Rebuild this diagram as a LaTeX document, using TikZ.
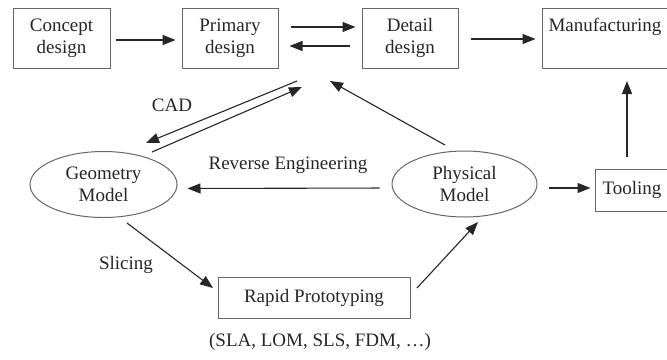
\documentclass[tikz,border=0pt]{standalone}
\usepackage{fontspec}
\setmainfont{Liberation Serif}
\usetikzlibrary{arrows.meta,shapes.geometric}
\begin{document}
\begin{tikzpicture}[x=1pt,y=-1pt,
  every node/.style={font=\fontsize{19}{22}\selectfont, text=black!85},
  box/.style={draw=black!60, line width=1pt, rectangle, inner sep=0pt, align=center},
  oval/.style={draw=black!60, line width=1pt, ellipse, inner sep=0pt, align=center},
  conn/.style={draw=black!85, line width=1.1pt, -{Triangle[length=13pt,width=10pt]}},
  lbl/.style={inner sep=0pt, align=center}]
\useasboundingbox (0,0) rectangle (667,359);
\clip (0,0) rectangle (667,359);

% design stages
\node[box, minimum width=97pt, minimum height=60pt] (concept) at (61.5,38) {Concept\\design};
\node[box, minimum width=96pt, minimum height=60pt] (primary) at (230,38) {Primary\\design};
\node[box, minimum width=96pt, minimum height=60pt] (detail) at (410,38) {Detail\\design};
\node[box, minimum width=140pt, minimum height=60pt] (manu) at (612,38) {};
\node[lbl] (manutext) at (605,27) {Manufacturing};

% models
\node[oval, minimum width=147pt, minimum height=66pt] (geom) at (103.5,184.5) {Geometry\\Model};
\node[oval, minimum width=145pt, minimum height=66pt] (phys) at (464.5,184) {Physical\\Model};

% tooling and rapid prototyping
\node[box, minimum width=90pt, minimum height=42pt] (tool) at (640,190) {};
\node[lbl] (tooltext) at (632,190) {Tooling};
\node[box, minimum width=192pt, minimum height=41pt] (rp) at (314,297.5) {Rapid Prototyping};
\node[lbl] (rptypes) at (320,342) {(SLA, LOM, SLS, FDM, \dots)};

% labels on connectors
\node[lbl] (cadlbl) at (172,105) {CAD};
\node[lbl] (revlbl) at (288,165) {Reverse Engineering};
\node[lbl] (slicelbl) at (126,265) {Slicing};

% connector end points
\coordinate (cadPa) at (297,81);
\coordinate (cadGa) at (146,143);
\coordinate (cadGb) at (152,152);
\coordinate (cadPb) at (302,87);
\coordinate (physTop) at (445,145);
\coordinate (designGap) at (330,81);
\coordinate (toolUp) at (627,157);
\coordinate (manuDown) at (627,81);
\coordinate (geomLow) at (127,223);
\coordinate (rpIn) at (213,288);
\coordinate (rpOut) at (417,288);
\coordinate (physLow) at (478,222);

% top row flow
\draw[conn, shorten <=5pt, shorten >=6pt] ([yshift=-2pt]concept.east) -- ([yshift=-2pt]primary.west);
\draw[conn, shorten <=12pt, shorten >=6pt] ([yshift=11pt]primary.east) -- ([yshift=11pt]detail.west);
\draw[conn, shorten <=12pt, shorten >=11pt] ([yshift=-8pt]detail.west) -- ([yshift=-8pt]primary.east);
\draw[conn, shorten <=12pt, shorten >=6pt] ([yshift=-1pt]detail.east) -- ([yshift=-1pt]manu.west);

% CAD exchange
\draw[conn] (cadPa) -- (cadGa);
\draw[conn] (cadGb) -- (cadPb);

% physical model feedback
\draw[conn] (physTop) -- (designGap);
\draw[conn, shorten <=12pt, shorten >=10pt] ([yshift=-4pt]phys.west) -- ([yshift=-4pt]geom.east);
\draw[conn, shorten <=11pt, shorten >=4pt] ([yshift=-4pt]phys.east) -- ([yshift=2pt]tool.west);
\draw[conn] (toolUp) -- (manuDown);

% prototyping loop
\draw[conn] (geomLow) -- (rpIn);
\draw[conn] (rpOut) -- (physLow);
\end{tikzpicture}
\end{document}
